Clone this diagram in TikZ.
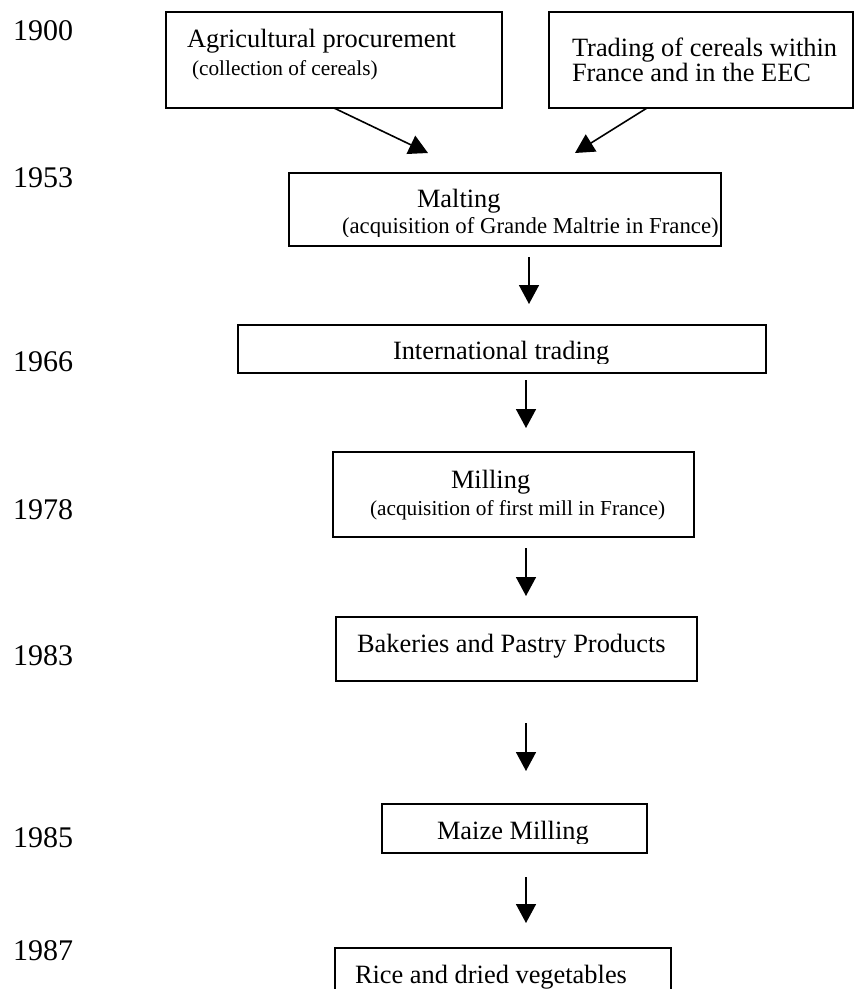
\documentclass[tikz,border=0pt]{standalone}
\usepackage{fontspec}
\setmainfont{Liberation Serif}
\usetikzlibrary{arrows.meta}
\begin{document}
\begin{tikzpicture}[x=1pt,y=-1pt,inner sep=0pt,outer sep=0pt,line width=1.6pt,
>={Triangle[length=19pt,width=20pt]},
stagebox/.style={draw,rectangle,anchor=north west},
bigtext/.style={anchor=base west,font=\fontsize{26.4}{30}\selectfont},
midtext/.style={anchor=base west,font=\fontsize{22.8}{27}\selectfont},
smalltext/.style={anchor=base west,font=\fontsize{21.3}{25}\selectfont},
yeartext/.style={anchor=base west,font=\fontsize{30}{34}\selectfont}]
\useasboundingbox (0,0) rectangle (855,989);
% years
\foreach \yr/\yy in {1900/40,1953/187,1966/371,1978/519,1983/665,1985/847,1987/960}
  \node[yeartext] (y\yr) at (13,\yy) {\yr};
% stages
\draw (166,12) node[stagebox,minimum width=336pt,minimum height=96pt] (agr) {};
\draw (187,47) node[bigtext] (agrA) {Agricultural procurement};
\draw (192,75) node[smalltext] (agrB) {(collection of cereals)};
\draw (549,12) node[stagebox,minimum width=304pt,minimum height=96pt] (trd) {};
\draw (572,56) node[bigtext] (trdA) {Trading of cereals within};
\draw (572,81) node[bigtext] (trdB) {France and in the EEC};
\draw (289,173) node[stagebox,minimum width=432pt,minimum height=73pt] (malt) {};
\draw (417,207) node[bigtext] (maltA) {Malting};
\begin{scope}
\clip (289,173) rectangle (721,236);
\draw (342,233) node[midtext] (maltB) {(acquisition of Grande Maltrie in France)};
\end{scope}
\draw (238,325) node[stagebox,minimum width=528pt,minimum height=48pt] (intl) {};
\begin{scope}
\clip (238,325) rectangle (766,363);
\draw (393,359) node[bigtext] (intlA) {International trading};
\end{scope}
\draw (333,452) node[stagebox,minimum width=361pt,minimum height=85pt] (mill) {};
\draw (451,488) node[bigtext] (millA) {Milling};
\draw (370,515) node[smalltext] (millB) {(acquisition of first mill in France)};
\draw (336,617) node[stagebox,minimum width=361pt,minimum height=64pt] (bake) {};
\draw (357,652) node[bigtext] (bakeA) {Bakeries and Pastry Products};
\draw (382,804) node[stagebox,minimum width=265pt,minimum height=49pt] (maize) {};
\begin{scope}
\clip (382,804) rectangle (647,843);
\draw (437,839) node[bigtext] (maizeA) {Maize Milling};
\end{scope}
\draw (335,948) node[stagebox,minimum width=336pt,minimum height=70pt] (rice) {};
\draw (355,983) node[bigtext] (riceA) {Rice and dried vegetables};
% arrows
\draw[->] (agr.south) -- ([shift={(-77,-20)}]malt.north);
\draw[->] ([shift={(-54,0)}]trd.south) -- ([shift={(70,-20)}]malt.north);
\draw[->] (malt.south) ++(24,11) -- ++(0,47);
\draw[->] (intl.south) ++(24,7) -- ++(0,48);
\draw[->] (mill.south) ++(12.5,11) -- ++(0,48);
\draw[->] (bake.south) ++(9.5,42) -- ++(0,48);
\draw[->] (maize.south) ++(11.5,24) -- ++(0,46);
\end{tikzpicture}
\end{document}
